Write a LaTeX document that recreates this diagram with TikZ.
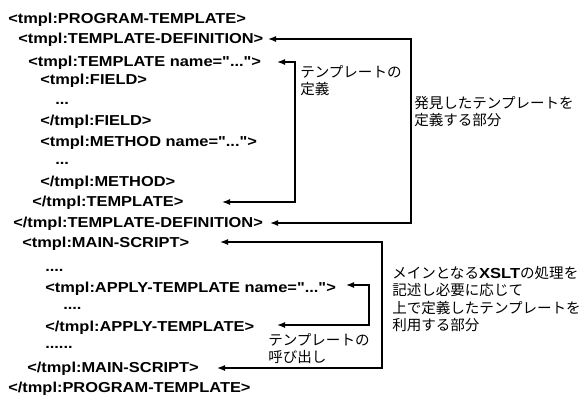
\documentclass[tikz,border=0pt]{standalone}
\usepackage{fontspec}
\setmainfont{Liberation Sans}
\newfontfamily\codefont{Liberation Sans}[FakeStretch=1.14,Ligatures=TeXOff]
\newfontfamily\jpfont{Noto Sans CJK JP}
\usetikzlibrary{arrows.meta}

\begin{document}
\begin{tikzpicture}[x=0.75pt,y=-0.75pt,
    code/.style={anchor=west,inner sep=0pt,text height=0.716em,text depth=0pt,
                 font=\codefont\fontsize{10.8}{13}\selectfont\bfseries},
    dots/.style={code,anchor=base west},
    note/.style={anchor=north west,inner sep=0pt,align=left,
                 font=\jpfont\fontsize{10.9}{13.1}\selectfont},
    bracket/.style={line width=1pt,{Latex[length=6pt,width=4.5pt]}-{Latex[length=6pt,width=4.5pt]}}]
        \useasboundingbox (0,0) rectangle (581,394);
        %% Code lines
        \node[code] (ptop)       at (8,19)    {<tmpl:PROGRAM-TEMPLATE>};
        \node[code] (defopen)    at (18,39)   {<tmpl:TEMPLATE-DEFINITION>};
        \node[code] (tplopen)    at (28,61.5) {<tmpl:TEMPLATE name="...">};
        \node[code] (fieldopen)  at (40,80)   {<tmpl:FIELD>};
        \node[dots] (fielddots)  at (55,104)  {...};
        \node[code] (fieldclose) at (40,121)  {</tmpl:FIELD>};
        \node[code] (methopen)   at (40,142)  {<tmpl:METHOD name="...">};
        \node[dots] (methdots)   at (55,164)  {...};
        \node[code] (methclose)  at (40,182)  {</tmpl:METHOD>};
        \node[code] (tplclose)   at (32,202)  {</tmpl:TEMPLATE>};
        \node[code] (defclose)   at (13,223)  {</tmpl:TEMPLATE-DEFINITION>};
        \node[code] (mainopen)   at (22,243)  {<tmpl:MAIN-SCRIPT>};
        \node[dots] (maindots)   at (45,271)  {....};
        \node[code] (applyopen)  at (45,288)  {<tmpl:APPLY-TEMPLATE name="...">};
        \node[dots] (applydots)  at (63,309)  {....};
        \node[code] (applyclose) at (45,327)  {</tmpl:APPLY-TEMPLATE>};
        \node[dots] (maindotsb)  at (45,348)  {......};
        \node[code] (mainclose)  at (27,368)  {</tmpl:MAIN-SCRIPT>};
        \node[code] (pclose)     at (8,387.5) {</tmpl:PROGRAM-TEMPLATE>};
        %% Notes
        \node[note] (tpldefnote) at (300,65)  {テンプレートの\\定義};
        \node[note] (defnote)    at (414,96)  {発見したテンプレートを\\定義する部分};
        \node[note] (callnote)   at (268,333) {テンプレートの\\呼び出し};
        \node[note] (mainnote)   at (392,266) {メインとなる{\codefont\bfseries XSLT}の処理を\\記述し必要に応じて\\上で定義したテンプレートを\\利用する部分};
        %% Bracket ends and corners
        \coordinate (defin)   at (268,39);
        \coordinate (defa)    at (411,39);
        \coordinate (defb)    at (411,223);
        \coordinate (defout)  at (270,223);
        \coordinate (tplin)   at (277,62);
        \coordinate (tpla)    at (295,62);
        \coordinate (tplb)    at (295,202);
        \coordinate (tplout)  at (222,202);
        \coordinate (mainin)  at (220,242);
        \coordinate (maina)   at (382,242);
        \coordinate (mainb)   at (382,368);
        \coordinate (mainout) at (217,368);
        \coordinate (callin)  at (346,285);
        \coordinate (calla)   at (369,285);
        \coordinate (callb)   at (369,325);
        \coordinate (callout) at (277,325);
        %% Brackets
        \draw[bracket] (defin) -- (defa) -- (defb) -- (defout);
        \draw[bracket] (tplin) -- (tpla) -- (tplb) -- (tplout);
        \draw[bracket] (mainin) -- (maina) -- (mainb) -- (mainout);
        \draw[bracket] (callin) -- (calla) -- (callb) -- (callout);
    \end{tikzpicture}
\end{document}
